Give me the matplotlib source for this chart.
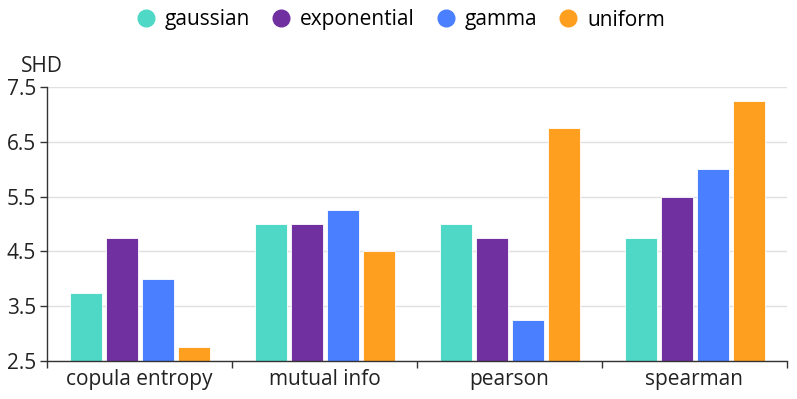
import matplotlib
matplotlib.use("Agg")
import matplotlib.pyplot as plt
import numpy as np
from matplotlib.lines import Line2D

categories = ["copula entropy", "mutual info", "pearson", "spearman"]
series_names = ["gaussian", "exponential", "gamma", "uniform"]
gaussian = [3.75, 5.0, 5.0, 4.75]
exponential = [4.75, 5.0, 4.75, 5.5]
gamma = [4.0, 5.25, 3.25, 6.0]
uniform = [2.75, 4.5, 6.75, 7.25]
colors = ["#4fd8c6", "#7030a0", "#4a7fff", "#ff9f1f"]
yticks = [2.5, 3.5, 4.5, 5.5, 6.5, 7.5]

plt.rcParams['font.family'] = ['Open Sans', 'DejaVu Sans']
FS = 15

W, H = 797, 399
fig = plt.figure(figsize=(W/100, H/100), dpi=100)
ax = fig.add_axes([47/W, (H-361)/H, 740/W, 274/H])

data = [gaussian, exponential, gamma, uniform]
x = np.arange(len(categories))
bw = 32/185
step = 36/185
base = 2.5
for i, (vals, c) in enumerate(zip(data, colors)):
    off = (i - 1.5) * step
    ax.bar(x + off, np.array(vals) - base, bottom=base, width=bw, color=c,
           edgecolor="white", linewidth=0.6, zorder=3)

ax.set_xlim(-0.5, len(categories) - 0.5)
ax.set_ylim(2.5, 7.5)
ax.set_yticks(yticks)
ax.set_yticklabels([f"{v}" for v in yticks], fontsize=FS, color="#222222")
ax.set_xticks(x)
ax.set_xticklabels(categories, fontsize=FS, color="#222222")
ax.tick_params(axis='x', length=0, pad=6)
ax.set_xticks(np.arange(-0.5, len(categories)), minor=True)
ax.tick_params(axis='x', which='minor', length=5, color="#333333", width=1)
ax.tick_params(axis='y', length=5, color="#333333", width=1, pad=3)
ax.grid(axis='y', color="#e0e0e0", linewidth=1, zorder=0)
for s in ["top", "right"]:
    ax.spines[s].set_visible(False)
for s in ["left", "bottom"]:
    ax.spines[s].set_color("#333333")
    ax.spines[s].set_linewidth(1)
    ax.spines[s].set_zorder(4)

fig.text(42/W, 1 - 66/H, "SHD", ha="center", va="center", fontsize=FS, color="#222222")

handles = [Line2D([0], [0], marker='o', linestyle='none', markersize=12,
                  markerfacecolor=c, markeredgecolor=c) for c in colors]
fig.legend(handles, series_names, loc="center", bbox_to_anchor=(400/W, 1 - 20/H),
           ncol=4, frameon=False, fontsize=FS, handletextpad=0.4,
           columnspacing=1.0, handlelength=1.0)

fig.savefig("out.png", dpi=100)
